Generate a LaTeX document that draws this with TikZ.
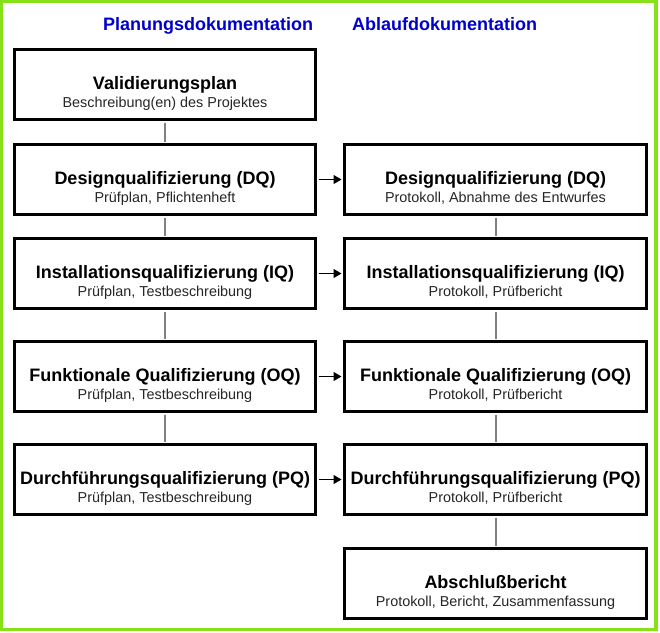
\documentclass[tikz,border=0pt]{standalone}
\usepackage{fontspec}
\setmainfont{Liberation Sans}
\usetikzlibrary{arrows.meta}
\definecolor{framegreen}{RGB}{135,225,25}
\definecolor{headblue}{RGB}{0,0,204}
\definecolor{linkgray}{RGB}{128,128,128}
\tikzset{
  box/.style={draw=black, line width=3pt, minimum height=70pt, inner sep=0pt, fill=white},
  lbox/.style={box, minimum width=301pt},
  rbox/.style={box, minimum width=302pt},
  ttl/.style={anchor=base, inner sep=0pt, font=\fontsize{18}{20}\selectfont\bfseries},
  sub/.style={anchor=base, inner sep=0pt, text=black!85, font=\fontsize{14.4}{16}\selectfont},
  head/.style={anchor=base west, inner sep=0pt, text=headblue, font=\fontsize{18}{20}\selectfont\bfseries},
  link/.style={draw=linkgray, line width=2pt, shorten <=1.5pt, shorten >=1.5pt},
  flow/.style={draw=black, line width=1pt, shorten <=1.5pt, shorten >=1.5pt, -{Triangle[length=8pt,width=9pt]}}
}
\begin{document}
\begin{tikzpicture}[x=1pt,y=-1pt]
\useasboundingbox (0,0) rectangle (660,632);
\fill[white] (0,0) rectangle (660,632);
\draw[framegreen, line width=3.5pt] (1.5,1.5) rectangle (655.75,629.5);

\node[head] (hp) at (103,30.5) {Planungsdokumentation};
\node[head] (ha) at (352,30.5) {Ablaufdokumentation};

% left column
\node[lbox] (l1) at (165,84.5) {};
\node[lbox] (l2) at (165,179.5) {};
\node[lbox] (l3) at (165,273.5) {};
\node[lbox] (l4) at (165,376.5) {};
\node[lbox] (l5) at (165,479.5) {};
% right column
\node[rbox] (r2) at (495.5,179.5) {};
\node[rbox] (r3) at (495.5,273.5) {};
\node[rbox] (r4) at (495.5,376.5) {};
\node[rbox] (r5) at (495.5,479.5) {};
\node[rbox] (r6) at (495.5,583.5) {};

% texts
\node[ttl] (l1t) at ([yshift=-41.5pt]l1.north) {Validierungsplan};
\node[sub] (l1s) at ([yshift=-59.5pt]l1.north) {Beschreibung(en) des Projektes};
\node[ttl] (l2t) at ([yshift=-41.5pt]l2.north) {Designqualifizierung (DQ)};
\node[sub] (l2s) at ([yshift=-59.5pt]l2.north) {Prüfplan, Pflichtenheft};
\node[ttl] (l3t) at ([yshift=-41.5pt]l3.north) {Installationsqualifizierung (IQ)};
\node[sub] (l3s) at ([yshift=-59.5pt]l3.north) {Prüfplan, Testbeschreibung};
\node[ttl] (l4t) at ([yshift=-41.5pt]l4.north) {Funktionale Qualifizierung (OQ)};
\node[sub] (l4s) at ([yshift=-59.5pt]l4.north) {Prüfplan, Testbeschreibung};
\node[ttl] (l5t) at ([yshift=-41.5pt]l5.north) {Durchführungsqualifizierung (PQ)};
\node[sub] (l5s) at ([yshift=-59.5pt]l5.north) {Prüfplan, Testbeschreibung};

\node[ttl] (r2t) at ([yshift=-41.5pt]r2.north) {Designqualifizierung (DQ)};
\node[sub] (r2s) at ([yshift=-59.5pt]r2.north) {Protokoll, Abnahme des Entwurfes};
\node[ttl] (r3t) at ([yshift=-41.5pt]r3.north) {Installationsqualifizierung (IQ)};
\node[sub] (r3s) at ([yshift=-59.5pt]r3.north) {Protokoll, Prüfbericht};
\node[ttl] (r4t) at ([yshift=-41.5pt]r4.north) {Funktionale Qualifizierung (OQ)};
\node[sub] (r4s) at ([yshift=-59.5pt]r4.north) {Protokoll, Prüfbericht};
\node[ttl] (r5t) at ([yshift=-41.5pt]r5.north) {Durchführungsqualifizierung (PQ)};
\node[sub] (r5s) at ([yshift=-59.5pt]r5.north) {Protokoll, Prüfbericht};
\node[ttl] (r6t) at ([yshift=-41.5pt]r6.north) {Abschlußbericht};
\node[sub] (r6s) at ([yshift=-59.5pt]r6.north) {Protokoll, Bericht, Zusammenfassung};

% vertical links
\draw[link] (l1.south) -- (l2.north);
\draw[link] (l2.south) -- (l3.north);
\draw[link] (l3.south) -- (l4.north);
\draw[link] (l4.south) -- (l5.north);
\draw[link] (r2.south) -- (r3.north);
\draw[link] (r3.south) -- (r4.north);
\draw[link] (r4.south) -- (r5.north);
\draw[link] (r5.south) -- (r6.north);

% arrows
\draw[flow] (l2.east) -- (r2.west);
\draw[flow] (l3.east) -- (r3.west);
\draw[flow] (l4.east) -- (r4.west);
\draw[flow] (l5.east) -- (r5.west);
\end{tikzpicture}
\end{document}
